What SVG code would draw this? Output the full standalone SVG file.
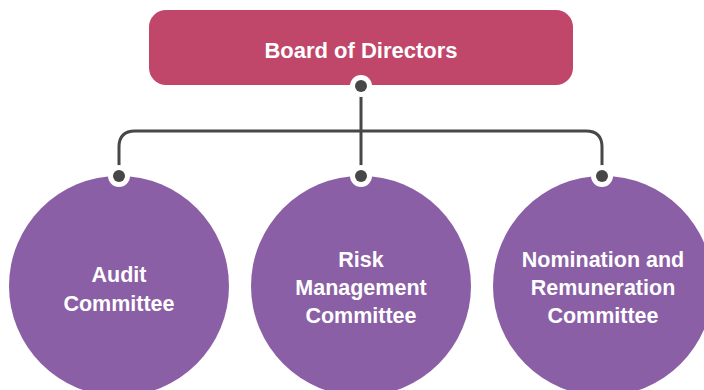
<svg xmlns="http://www.w3.org/2000/svg" width="704" height="390" viewBox="0 0 704 390">
  <style>
    .lbl { font-family: "Liberation Sans", Arial, sans-serif; font-weight: bold; fill: #ffffff; text-anchor: middle; }
    .board { fill: #C0466A; }
    .comm { fill: #8B5FA5; }
    .wire { fill: none; stroke: #474747; stroke-width: 3; }
    .ring { fill: #ffffff; }
    .dot { fill: #474747; }
  </style>
  <rect width="704" height="390" fill="#ffffff"/>
  <g id="board">
    <rect class="board" x="149" y="10" width="424" height="75" rx="17"/>
    <text class="lbl" x="361" y="58" font-size="22">Board of Directors</text>
  </g>
  <g id="audit">
    <circle class="comm" cx="119" cy="286" r="110"/>
    <text class="lbl" font-size="21.5"><tspan x="119" y="282">Audit</tspan><tspan x="119" y="311">Committee</tspan></text>
  </g>
  <g id="risk">
    <circle class="comm" cx="361" cy="286" r="110"/>
    <text class="lbl" font-size="21.5"><tspan x="361" y="267">Risk</tspan><tspan x="361" y="295">Management</tspan><tspan x="361" y="323">Committee</tspan></text>
  </g>
  <g id="nomination">
    <circle class="comm" cx="603" cy="286" r="110"/>
    <text class="lbl" font-size="21.5"><tspan x="603" y="267">Nomination and</tspan><tspan x="603" y="295">Remuneration</tspan><tspan x="603" y="323">Committee</tspan></text>
  </g>
  <g id="connectors">
    <path class="wire" d="M361,86 V176"/>
    <path class="wire" d="M119,176 V147 Q119,131 135,131 H586 Q602,131 602,147 V176"/>
    <circle class="ring" cx="361" cy="86" r="11"/>
    <circle class="dot" cx="361" cy="86" r="6"/>
    <circle class="ring" cx="119" cy="176" r="11"/>
    <circle class="dot" cx="119" cy="176" r="6"/>
    <circle class="ring" cx="361" cy="176" r="11"/>
    <circle class="dot" cx="361" cy="176" r="6"/>
    <circle class="ring" cx="602" cy="176" r="11"/>
    <circle class="dot" cx="602" cy="176" r="6"/>
  </g>
</svg>
